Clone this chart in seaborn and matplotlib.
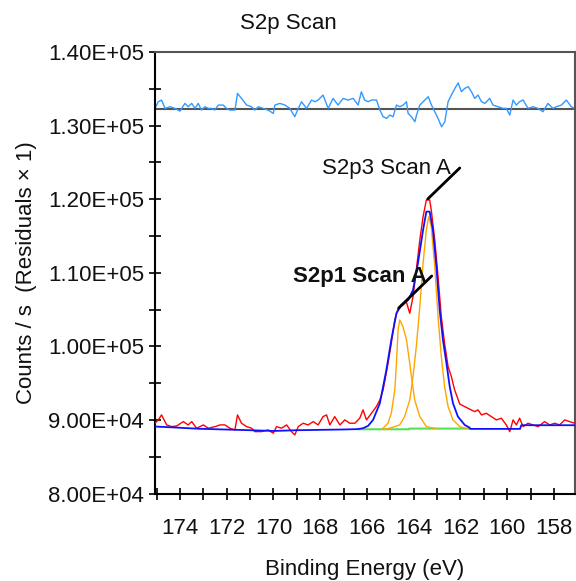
import matplotlib
matplotlib.use("Agg")
import matplotlib.pyplot as plt
from matplotlib.ticker import MultipleLocator, FuncFormatter
import seaborn as sns
import pandas as pd

# ---------------- data ----------------
raw_be = [175.07, 174.93, 174.79, 174.57, 174.36, 174.14, 173.86, 173.65, 173.50, 173.29,
          173.00, 172.79, 172.50, 172.29, 172.08, 171.87, 171.65, 171.54, 171.37, 171.15,
          170.94, 170.80, 170.51, 170.23, 170.01, 169.87, 169.66, 169.44, 169.23, 169.09,
          168.94, 168.73, 168.52, 168.30, 168.09, 167.88, 167.73, 167.59, 167.38, 167.16,
          166.95, 166.74, 166.52, 166.31, 166.17, 166.02, 165.81, 165.60, 165.45, 165.31,
          165.10, 164.96, 164.81, 164.67, 164.46, 164.32, 164.17, 164.03, 163.89, 163.74,
          163.60, 163.46, 163.32, 163.25, 163.10, 162.96, 162.82, 162.68, 162.53, 162.39,
          162.25, 162.03, 161.82, 161.61, 161.39, 161.25, 161.10, 160.89, 160.68, 160.46,
          160.25, 160.04, 159.89, 159.75, 159.61, 159.47, 159.32, 159.11, 158.90, 158.68,
          158.40, 158.18, 157.97, 157.76, 157.54, 157.33, 157.12]
raw_cps = [89550, 90000, 90680, 89320, 89090, 89180, 89770, 89320, 89770, 88870,
           89320, 88870, 89090, 89320, 89320, 88870, 88640, 90680, 89550, 89090,
           88870, 88410, 88410, 88640, 88190, 89090, 88870, 89320, 88410, 87960,
           89090, 89550, 89320, 89770, 89320, 90450, 90680, 89320, 90450, 89320,
           90000, 89550, 89550, 90230, 91360, 90000, 90900, 91810, 92700, 94080,
           97700, 100420, 103590, 105170, 105630, 106080, 104490, 106760, 110380, 114460,
           117630, 119890, 119890, 118530, 114460, 109480, 104040, 100420, 97250, 95890,
           94080, 92150, 91810, 91470, 91130, 91360, 90680, 90900, 90450, 90000,
           90230, 89320, 88410, 90000, 89320, 90230, 89090, 89550, 89320, 89090,
           89770, 89320, 89550, 89320, 90000, 89770, 89550]

env_be = [175.07, 174.40, 173.20, 171.00, 170.00, 169.00, 167.00, 166.40, 166.17, 165.95,
          165.74, 165.45, 165.17, 164.96, 164.74, 164.53, 164.24, 164.03, 163.82, 163.60,
          163.46, 163.32, 163.18, 163.03, 162.89, 162.75, 162.60, 162.46, 162.32, 162.11,
          161.82, 161.61, 161.58, 159.45, 159.40, 157.10]
env_cps = [89100, 89000, 88800, 88600, 88500, 88600, 88700, 88750, 88870, 89200,
           90000, 92260, 96800, 100870, 104490, 105620, 106300, 107660, 111290, 115820,
           118310, 118310, 115820, 110830, 104950, 100870, 97700, 94530, 92260, 90450,
           89320, 88950, 88780, 88780, 89280, 89280]

p1_be = [165.35, 165.10, 164.96, 164.81, 164.74, 164.67, 164.60, 164.46, 164.31, 164.17,
         164.10, 163.96, 163.74, 163.46, 163.05]
p1_cps = [88750, 89550, 90900, 94080, 97700, 102230, 103590, 102680, 100870, 97700,
          95890, 92720, 90450, 89090, 88820]

p3_be = [165.24, 165.03, 164.60, 164.39, 164.17, 164.03, 163.89, 163.74, 163.60, 163.46,
         163.36, 163.25, 163.10, 162.96, 162.82, 162.68, 162.53, 162.32, 162.03, 161.75]
p3_cps = [88750, 88870, 89320, 90450, 92720, 95890, 99970, 105400, 111290, 115820,
          117630, 116270, 110830, 104040, 98600, 94530, 91810, 90000, 89090, 88820]

bg_be = [166.39, 164.21, 164.19, 161.60]
bg_cps = [88730, 88730, 88820, 88820]

res_be = [175.07, 174.93, 174.79, 174.64, 174.43, 174.22, 174.00, 173.79, 173.65, 173.50,
          173.36, 173.22, 173.08, 172.93, 172.79, 172.65, 172.51, 172.36, 172.15, 172.01,
          171.87, 171.65, 171.54, 171.37, 171.15, 170.94, 170.80, 170.65, 170.44, 170.23,
          170.01, 169.94, 169.73, 169.51, 169.30, 169.09, 168.94, 168.80, 168.59, 168.37,
          168.23, 168.09, 167.88, 167.66, 167.45, 167.24, 167.02, 166.81, 166.59, 166.38,
          166.24, 166.10, 165.95, 165.81, 165.59, 165.45, 165.31, 165.16, 165.02, 164.88,
          164.74, 164.59, 164.45, 164.31, 164.24, 164.10, 163.95, 163.88, 163.74, 163.60,
          163.38, 163.24, 163.10, 162.96, 162.81, 162.67, 162.53, 162.39, 162.24, 162.10,
          161.96, 161.82, 161.67, 161.53, 161.39, 161.25, 161.10, 160.96, 160.75, 160.61,
          160.39, 160.18, 160.04, 159.89, 159.75, 159.61, 159.47, 159.32, 159.11, 158.90,
          158.68, 158.47, 158.26, 158.04, 157.90, 157.68, 157.47, 157.26, 157.12]
res_cps = [136, 1042, 1268, 136, 362, 136, -226, 815, 362, 815,
           136, 815, -91, 362, 136, 136, -91, 589, 589, 136,
           -91, -91, 2174, 1495, 589, 362, -91, 362, 136, -91,
           -543, 589, 815, 589, 136, -996, 136, 1042, 136, 1268,
           1042, 1268, 1947, 136, 1495, 589, 1495, 1268, 1495, 589,
           2400, 1268, 1042, 1268, 1268, -91, -996, -1223, -770, -996,
           589, 362, 589, 1042, -543, -996, -1676, -770, 589, 1042,
           1721, 589, -317, -1223, -2355, -1676, 1042, 1947, 2853, 3600,
           2400, 2853, 3080, 2400, 1495, 1947, 1042, 815, 1495, 589,
           362, 136, 136, -770, 1268, 589, 1042, 1268, 136, 362,
           136, -317, 815, 136, 362, 589, 1268, 362, 136]

residual_offset = 132200

ann_labels = ["S2p3 Scan A", "S2p1 Scan A"]
ann_text_xy = [(167.94, 123420), (169.16, 108790)]
ann_line_start = [(162.03, 124240), (163.23, 109560)]
ann_line_end = [(163.40, 120030), (164.64, 105220)]
ann_weight = ["normal", "bold"]

title = "S2p Scan"
xlabel = "Binding Energy (eV)"
ylabel = "Counts / s  (Residuals \u00d7 1)"

# ---------------- figure ----------------
sns.set_theme(style="ticks")
plt.rcParams["font.family"] = ["Liberation Sans", "DejaVu Sans"]

fig = plt.figure(figsize=(5.76, 5.81), dpi=100)
ax = fig.add_axes([155 / 576, 1 - 493.5 / 581, 420 / 576, 441.5 / 581])

res_df = pd.DataFrame({"be": res_be, "cps": [r + residual_offset for r in res_cps]})
ax.axhline(residual_offset, color="#555555", lw=1.5, zorder=1)
sns.lineplot(data=res_df, x="be", y="cps", ax=ax, color="#3399ff", lw=1.0,
             estimator=None, sort=False, zorder=2)

sns.lineplot(x=raw_be, y=raw_cps, ax=ax, color="#ff0000", lw=1.0,
             estimator=None, sort=False, zorder=3)
sns.lineplot(x=bg_be, y=bg_cps, ax=ax, color="#55e055", lw=1.5,
             estimator=None, sort=False, zorder=4)
sns.lineplot(x=p1_be, y=p1_cps, ax=ax, color="#ffa500", lw=1.0,
             estimator=None, sort=False, zorder=4)
sns.lineplot(x=p3_be, y=p3_cps, ax=ax, color="#ffa500", lw=1.0,
             estimator=None, sort=False, zorder=4)
sns.lineplot(x=env_be, y=env_cps, ax=ax, color="#1010ff", lw=1.3,
             estimator=None, sort=False, zorder=5)

for lab, txy, ls, le, w in zip(ann_labels, ann_text_xy, ann_line_start, ann_line_end, ann_weight):
    ax.text(txy[0], txy[1], lab, fontsize=16, ha="left", va="baseline",
            fontweight=w, color="#111111", zorder=6)
    ax.annotate("", xy=le, xytext=ls,
                arrowprops=dict(arrowstyle="-", color="black", lw=2,
                                shrinkA=0, shrinkB=0), zorder=6)

ax.set_xlim(175.07, 157.1)
ax.set_ylim(80000, 140000)
ax.xaxis.set_major_locator(MultipleLocator(2))
ax.xaxis.set_minor_locator(MultipleLocator(1))
ax.yaxis.set_major_locator(MultipleLocator(10000))
ax.yaxis.set_minor_locator(MultipleLocator(5000))
ax.xaxis.set_major_formatter(FuncFormatter(lambda v, p: f"{v:.0f}"))
ax.yaxis.set_major_formatter(FuncFormatter(lambda v, p: f"{v:.2E}"))

ax.tick_params(axis="both", which="both", direction="inout", length=8, width=1.2,
               color="black", labelsize=16, labelcolor="#111111")
ax.tick_params(axis="x", which="both", pad=14, top=False)
ax.tick_params(axis="y", which="both", pad=4, right=False)

for s in ["left", "bottom"]:
    ax.spines[s].set_color("black")
    ax.spines[s].set_linewidth(1.5)
for s in ["top", "right"]:
    ax.spines[s].set_color("#555555")
    ax.spines[s].set_linewidth(1.5)

ax.set_xlabel(xlabel, fontsize=16, color="#111111", labelpad=14)
ax.set_ylabel(ylabel, fontsize=16, color="#111111", labelpad=8)
fig.text(0.5, 1 - 23 / 581, title, fontsize=16, ha="center", va="center", color="#111111")

fig.savefig("out.png", dpi=100)
